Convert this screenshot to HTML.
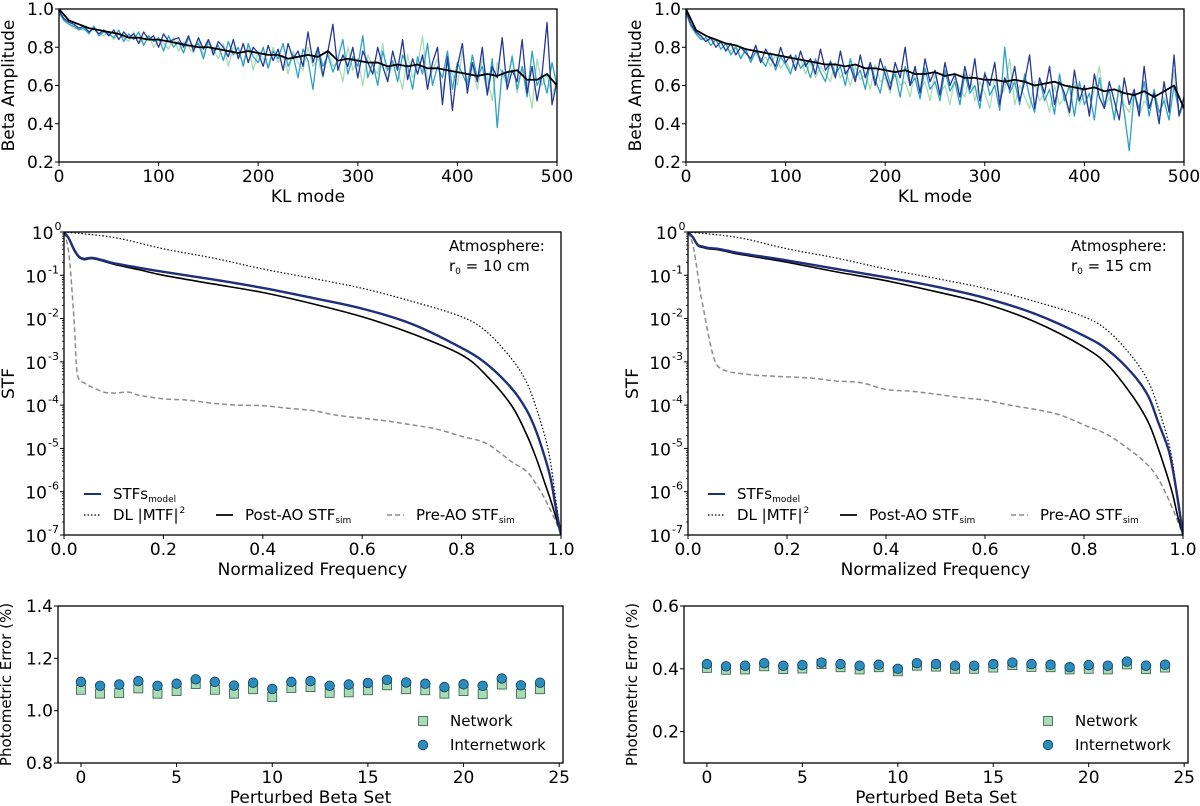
<!DOCTYPE html>
<html><head><meta charset="utf-8">
<style>
html,body{margin:0;padding:0;background:#fff;}
svg{display:block;font-family:"DejaVu Sans","Liberation Sans",sans-serif;}
</style></head>
<body>
<svg id="fig" width="1200" height="806" viewBox="0 0 1200 806" xmlns="http://www.w3.org/2000/svg"></svg>
<script>
// ---------- Top-left (beta amplitude, r0=10) ----------
const tlBlue=[0.99,0.95,0.93,0.92,0.90,0.91,0.88,0.90,0.87,0.89,0.86,0.89,0.84,0.88,0.85,0.87,0.82,0.88,0.84,0.86,0.80,0.87,0.83,0.84,0.85,0.80,0.86,0.78,0.85,0.79,0.84,0.76,0.83,0.80,0.75,0.84,0.74,0.82,0.72,0.80,0.77,0.70,0.81,0.73,0.79,0.68,0.82,0.74,0.78,0.70,0.88,0.72,0.80,0.65,0.78,0.92,0.68,0.76,0.70,0.80,0.64,0.78,0.72,0.66,0.80,0.70,0.62,0.78,0.68,0.84,0.63,0.74,0.66,0.76,0.58,0.72,0.80,0.50,0.75,0.47,0.70,0.82,0.56,0.72,0.62,0.80,0.55,0.70,0.64,0.85,0.58,0.68,0.62,0.84,0.56,0.70,0.52,0.66,0.93,0.50,0.62];
const tlCyan=[0.98,0.94,0.92,0.91,0.89,0.90,0.87,0.91,0.86,0.88,0.87,0.85,0.89,0.83,0.87,0.84,0.88,0.81,0.86,0.83,0.85,0.78,0.86,0.80,0.83,0.77,0.85,0.80,0.82,0.74,0.84,0.78,0.81,0.73,0.83,0.76,0.80,0.70,0.82,0.75,0.72,0.80,0.69,0.78,0.74,0.82,0.70,0.76,0.64,0.79,0.73,0.58,0.80,0.70,0.76,0.67,0.74,0.84,0.66,0.75,0.70,0.86,0.64,0.72,0.60,0.78,0.68,0.73,0.62,0.76,0.70,0.58,0.75,0.66,0.82,0.60,0.70,0.64,0.78,0.58,0.72,0.66,0.60,0.76,0.64,0.70,0.56,0.74,0.38,0.68,0.62,0.75,0.58,0.70,0.54,0.78,0.60,0.66,0.56,0.72,0.60];
const tlGreen=[0.98,0.94,0.92,0.90,0.90,0.89,0.88,0.89,0.87,0.86,0.88,0.84,0.87,0.85,0.83,0.88,0.82,0.84,0.86,0.80,0.84,0.82,0.79,0.85,0.78,0.83,0.80,0.77,0.84,0.76,0.82,0.79,0.74,0.82,0.70,0.80,0.76,0.72,0.81,0.68,0.78,0.74,0.70,0.80,0.72,0.76,0.66,0.78,0.72,0.68,0.80,0.70,0.74,0.64,0.78,0.70,0.72,0.62,0.80,0.68,0.74,0.60,0.76,0.70,0.66,0.82,0.62,0.72,0.68,0.58,0.76,0.64,0.70,0.86,0.62,0.68,0.74,0.56,0.72,0.66,0.60,0.78,0.62,0.70,0.58,0.74,0.64,0.52,0.72,0.66,0.60,0.76,0.56,0.70,0.62,0.48,0.74,0.60,0.66,0.54,0.64];
const tlBlack=[1.00,0.94,0.92,0.90,0.89,0.88,0.87,0.85,0.85,0.84,0.84,0.83,0.82,0.81,0.80,0.80,0.79,0.78,0.77,0.78,0.77,0.76,0.76,0.74,0.75,0.76,0.75,0.78,0.73,0.74,0.73,0.72,0.72,0.70,0.71,0.70,0.71,0.69,0.69,0.68,0.67,0.66,0.65,0.66,0.65,0.67,0.68,0.63,0.63,0.66,0.60];
// ---------- Top-right (beta amplitude, r0=15) ----------
const trBlue=[0.99,0.92,0.88,0.86,0.83,0.85,0.80,0.83,0.78,0.82,0.76,0.80,0.77,0.74,0.81,0.72,0.79,0.74,0.70,0.80,0.72,0.76,0.68,0.78,0.70,0.74,0.66,0.79,0.68,0.72,0.64,0.78,0.66,0.70,0.62,0.76,0.64,0.72,0.60,0.74,0.66,0.58,0.72,0.64,0.80,0.60,0.70,0.56,0.74,0.62,0.68,0.55,0.72,0.60,0.66,0.54,0.70,0.58,0.74,0.52,0.66,0.60,0.72,0.50,0.64,0.58,0.70,0.52,0.62,0.76,0.48,0.64,0.56,0.70,0.50,0.62,0.56,0.46,0.68,0.52,0.60,0.44,0.66,0.54,0.48,0.62,0.52,0.42,0.64,0.50,0.58,0.44,0.70,0.48,0.56,0.40,0.62,0.46,0.76,0.44,0.54];
const trCyan=[0.98,0.91,0.87,0.84,0.85,0.81,0.84,0.79,0.82,0.76,0.80,0.74,0.79,0.72,0.78,0.74,0.70,0.77,0.68,0.75,0.71,0.66,0.76,0.69,0.72,0.64,0.74,0.67,0.62,0.73,0.66,0.70,0.60,0.74,0.64,0.68,0.58,0.72,0.63,0.56,0.70,0.61,0.66,0.54,0.70,0.60,0.64,0.53,0.69,0.58,0.62,0.52,0.68,0.57,0.62,0.50,0.66,0.56,0.60,0.48,0.67,0.55,0.60,0.47,0.80,0.56,0.62,0.50,0.66,0.54,0.46,0.64,0.52,0.58,0.45,0.66,0.52,0.60,0.44,0.62,0.50,0.56,0.42,0.64,0.50,0.58,0.42,0.60,0.46,0.26,0.56,0.48,0.62,0.44,0.58,0.46,0.52,0.42,0.60,0.46,0.50];
const trGreen=[0.98,0.91,0.88,0.85,0.83,0.84,0.80,0.82,0.79,0.78,0.81,0.75,0.78,0.73,0.77,0.72,0.75,0.70,0.76,0.69,0.73,0.68,0.71,0.74,0.66,0.72,0.64,0.70,0.66,0.62,0.72,0.64,0.68,0.60,0.70,0.63,0.66,0.58,0.71,0.62,0.64,0.56,0.68,0.60,0.62,0.54,0.68,0.58,0.62,0.52,0.66,0.56,0.60,0.50,0.64,0.58,0.54,0.66,0.52,0.62,0.56,0.48,0.64,0.54,0.58,0.74,0.50,0.60,0.54,0.48,0.62,0.52,0.56,0.46,0.60,0.50,0.54,0.44,0.62,0.50,0.56,0.46,0.58,0.70,0.48,0.54,0.44,0.60,0.50,0.46,0.56,0.44,0.52,0.48,0.58,0.42,0.54,0.48,0.68,0.44,0.50];
const trBlack=[1.00,0.89,0.86,0.84,0.82,0.81,0.79,0.78,0.77,0.76,0.75,0.74,0.73,0.72,0.71,0.71,0.70,0.71,0.69,0.69,0.68,0.67,0.68,0.66,0.66,0.67,0.65,0.66,0.64,0.64,0.63,0.63,0.62,0.63,0.62,0.60,0.61,0.62,0.60,0.59,0.58,0.59,0.57,0.58,0.56,0.55,0.57,0.54,0.57,0.60,0.48];
const klTicks=[0,100,200,300,400,500];
const betaTicks=[0.2,0.4,0.6,0.8,1.0];

// ---------- Middle panels (STF) ----------
const freqModel=[0,0.01,0.02,0.03,0.04,0.05,0.06,0.08,0.1,0.15,0.2,0.3,0.4,0.5,0.6,0.7,0.8,0.85,0.9,0.93,0.95,0.97,0.98,0.99,1.0];
const mlModel=[1,0.7,0.4,0.27,0.24,0.25,0.25,0.22,0.19,0.15,0.12,0.08,0.051,0.03,0.017,0.0075,0.0021,0.0009,2.5e-4,8e-5,2.5e-5,5e-6,1.8e-6,4e-7,1e-7];
const mlPost=[1,0.68,0.38,0.26,0.23,0.24,0.24,0.21,0.18,0.135,0.1,0.063,0.04,0.022,0.011,0.0045,0.00145,4.8e-4,1.0e-4,2.2e-5,6e-6,1.3e-6,6e-7,2.5e-7,1e-7];
const mrModel=[1,0.75,0.5,0.46,0.43,0.42,0.41,0.37,0.33,0.27,0.22,0.14,0.09,0.055,0.03,0.013,0.004,0.0018,5e-4,1.6e-4,4e-5,1e-5,3e-6,6e-7,1e-7];
const mrPost=[1,0.73,0.48,0.44,0.41,0.40,0.39,0.35,0.31,0.25,0.2,0.12,0.075,0.042,0.022,0.0085,0.0022,8e-4,1.5e-4,4e-5,1e-5,2e-6,8e-7,2.5e-7,1e-7];
const freqDL=[0,0.1,0.2,0.3,0.4,0.5,0.6,0.7,0.8,0.85,0.9,0.93,0.95,0.97,0.98,0.99,1.0];
const dlVals=[1,0.75,0.41,0.25,0.14,0.085,0.05,0.025,0.011,0.005,0.0012,3.5e-4,8.7e-5,1.5e-5,4e-6,6e-7,1e-7];
const freqPre=[0,0.01,0.02,0.025,0.03,0.04,0.05,0.06,0.08,0.1,0.13,0.15,0.2,0.25,0.3,0.35,0.4,0.45,0.5,0.55,0.6,0.65,0.7,0.75,0.8,0.85,0.9,0.93,0.95,0.97,0.99,1.0];
const mlPre=[1,0.3,0.01,8e-4,4e-4,3.3e-4,2.8e-4,2.5e-4,2e-4,1.9e-4,2e-4,1.7e-4,1.4e-4,1.3e-4,1.1e-4,1e-4,9.7e-5,8.5e-5,7.5e-5,5.8e-5,5e-5,4.3e-5,3.5e-5,2.8e-5,1.9e-5,1.3e-5,5e-6,3e-6,1.5e-6,6e-7,2e-7,1e-7];
const mrPre=[1,0.5,0.1,0.04,0.02,0.005,0.0015,8e-4,6e-4,5.5e-4,5e-4,4.8e-4,4.5e-4,4.2e-4,3.6e-4,3.3e-4,2.3e-4,2.1e-4,1.8e-4,1.5e-4,1.3e-4,1e-4,8e-5,6e-5,3.5e-5,2e-5,8e-6,4e-6,2e-6,7e-7,2e-7,1e-7];
const freqTicks=[0,0.2,0.4,0.6,0.8,1.0];
const logTicks=[0,-1,-2,-3,-4,-5,-6,-7];

// ---------- Bottom panels (photometric error) ----------
const betaSet=[0,1,2,3,4,5,6,7,8,9,10,11,12,13,14,15,16,17,18,19,20,21,22,23,24];
const blNetwork=[1.080,1.065,1.067,1.085,1.065,1.075,1.102,1.080,1.065,1.082,1.052,1.087,1.090,1.068,1.070,1.078,1.097,1.082,1.078,1.065,1.075,1.063,1.100,1.065,1.082];
const blInter=[1.110,1.095,1.100,1.113,1.095,1.103,1.120,1.110,1.096,1.107,1.083,1.110,1.113,1.095,1.100,1.106,1.118,1.108,1.103,1.090,1.101,1.095,1.123,1.097,1.107];
const brNetwork=[0.403,0.397,0.398,0.408,0.399,0.401,0.415,0.405,0.398,0.405,0.392,0.410,0.407,0.400,0.400,0.404,0.412,0.406,0.405,0.398,0.400,0.398,0.414,0.399,0.404];
const brInter=[0.415,0.408,0.410,0.418,0.410,0.412,0.420,0.415,0.410,0.413,0.400,0.418,0.415,0.410,0.410,0.415,0.420,0.415,0.413,0.405,0.412,0.410,0.423,0.410,0.413];
const setTicks=[0,5,10,15,20,25];
const blTicks=[0.8,1.0,1.2,1.4];
const brTicks=[0.2,0.4,0.6];

const NS="http://www.w3.org/2000/svg";
const fig=document.getElementById('fig');
const FS=17;
function mk(tag,attrs,parent){const e=document.createElementNS(NS,tag);for(const k in attrs)e.setAttribute(k,attrs[k]);(parent||fig).appendChild(e);return e;}
function linScale(d0,d1,r0,r1){return v=>r0+(v-d0)/(d1-d0)*(r1-r0);}

function panel(name,box,xs,ys,xticks,yticks,xlab,ylab,yfmt,ylabX,ylabSize){
  const g=mk('g',{});
  
  
  const ax=mk('g',{},g);
  
  
  const dec=xticks.some(v=>v%1!==0);
  xticks.forEach(t=>{const x=xs(t);
    mk('line',{x1:x,x2:x,y1:box.b,y2:box.b+4,stroke:'#000','stroke-width':1},ax);
    const tx=mk('text',{x:x,y:box.b+20,'font-size':FS,'text-anchor':'middle'},ax);tx.textContent=dec?t.toFixed(1):String(t);
    
    
  });
  const xl=mk('text',{x:(box.l+box.r)/2,y:box.b+40,'font-size':FS,'text-anchor':'middle'},g);xl.textContent=xlab;
  
  
  const ay=mk('g',{},g);
  
  
  yticks.forEach(t=>{const y=ys(t);
    mk('line',{x1:box.l-4,x2:box.l,y1:y,y2:y,stroke:'#000','stroke-width':1},ay);
    yfmt(t,y,ay);
  });
  const yl=mk('text',{x:0,y:0,'font-size':ylabSize||FS,'text-anchor':'middle',transform:`translate(${ylabX},${(box.t+box.b)/2}) rotate(-90)`},g);yl.textContent=ylab;
  
  
  const cid='clip'+name;
  const cp=mk('clipPath',{id:cid},g);mk('rect',{x:box.l,y:box.t,width:box.r-box.l,height:box.b-box.t},cp);
  const plot=mk('g',{'clip-path':`url(#${cid})`},g);
  
  
  return {g,plot,finish:()=>{const fr=mk('rect',{x:box.l,y:box.t,width:box.r-box.l,height:box.b-box.t,fill:'none',stroke:'#000','stroke-width':1.3},g);
    
    }};
}
function numY(decimals,offset){return (t,y,p)=>{const e=mk('text',{x:offset,y:y+6,'font-size':FS,'text-anchor':'end'},p);e.textContent=t.toFixed(decimals);
  
  };}
function logY(offset){return (t,y,p)=>{
  const ex=String(t), w=ex.length*6.5;
  const e=mk('text',{x:offset-w,y:y+7,'font-size':FS,'text-anchor':'end'},p);e.textContent='10';
  
  
  const s2=mk('text',{x:offset-w+1,y:y-2,'font-size':11,'text-anchor':'start'},p);s2.textContent=ex;
  
  
};}
function line(plot,xv,yv,xs,ys,color,w,dash,name,smooth){
  const pts=xv.map((x,i)=>[xs(x),ys(yv[i])]);
  let d='M'+pts[0][0].toFixed(2)+','+pts[0][1].toFixed(2);
  if(smooth){
    for(let i=0;i<pts.length-1;i++){
      const p0=pts[Math.max(0,i-1)],p1=pts[i],p2=pts[i+1],p3=pts[Math.min(pts.length-1,i+2)];
      const c1=[p1[0]+(p2[0]-p0[0])/6,p1[1]+(p2[1]-p0[1])/6];
      const c2=[p2[0]-(p3[0]-p1[0])/6,p2[1]-(p3[1]-p1[1])/6];
      d+='C'+c1[0].toFixed(2)+','+c1[1].toFixed(2)+' '+c2[0].toFixed(2)+','+c2[1].toFixed(2)+' '+p2[0].toFixed(2)+','+p2[1].toFixed(2);
    }
  } else {
    for(let i=1;i<pts.length;i++)d+='L'+pts[i][0].toFixed(2)+','+pts[i][1].toFixed(2);
  }
  const p=mk('path',{d:d,fill:'none',stroke:color,'stroke-width':w,'stroke-linejoin':'round'},plot);
  if(dash)p.setAttribute('stroke-dasharray',dash);
  
  
  return p;
}
function idx(arr){const n=arr.length;return arr.map((_,i)=>i*500/(n-1));}

// ----- Top panels -----
function betaPanel(name,box,green,cyan,blue,black){
  const xs=linScale(0,500,box.l,box.r), ys=linScale(0.2,1.0,box.b,box.t);
  const P=panel(name,box,xs,ys,klTicks,betaTicks,'KL mode','Beta Amplitude',numY(1,box.l-5),box.l-45);
  line(P.plot,idx(green),green,xs,ys,'#a8dcb4',1.3,null,'series-set-1');
  line(P.plot,idx(cyan),cyan,xs,ys,'#2ca1c4',1.3,null,'series-set-2');
  line(P.plot,idx(blue),blue,xs,ys,'#26379a',1.3,null,'series-set-3');
  line(P.plot,idx(black),black,xs,ys,'#000',1.8,null,'series-mean');
  P.finish();
}
betaPanel('beta-panel-r0-10',{l:59,r:557,t:9,b:162},tlGreen,tlCyan,tlBlue,tlBlack);
betaPanel('beta-panel-r0-15',{l:686,r:1184,t:9,b:162},trGreen,trCyan,trBlue,trBlack);

// ----- Middle panels -----
function stfPanel(name,box,model,post,pre,atm){
  const xs=linScale(0,1,box.l,box.r); const yl=linScale(0,-7,box.t,box.b); const ys=v=>yl(Math.log10(v));
  const P=panel(name,box,xs,yl,freqTicks,logTicks,'Normalized Frequency','STF',logY(box.l-4),box.l-50);
  logTicks.slice(0,-1).forEach(t=>{for(let k=2;k<10;k++){const y=yl(t-1+Math.log10(k));mk('line',{x1:box.l-2,x2:box.l,y1:y,y2:y,stroke:'#000','stroke-width':0.8},P.g);}});
  line(P.plot,freqDL,dlVals,xs,ys,'#000',1.2,'1.5,2','dl-mtf-line',true);
  line(P.plot,freqPre,pre,xs,ys,'#8c8c8c',1.5,'5,3','pre-ao-line',true);
  line(P.plot,freqModel,post,xs,ys,'#000',1.6,null,'post-ao-line',true);
  line(P.plot,freqModel,model,xs,ys,'#1f2f7a',2.4,null,'stf-model-line',true);
  const lg=mk('g',{},P.g);
  
  
  const L=box.l, r1=box.t+262, r2=box.t+283;
  function entry(x,y,col,dash,w,label,sub,sup){
    mk('line',{x1:x,x2:x+17,y1:y,y2:y,stroke:col,'stroke-width':w,'stroke-dasharray':dash||'none'},lg);
    const t=mk('text',{x:x+29,y:y+5,'font-size':15},lg);
    
    
    const a=mk('tspan',{},t);a.textContent=label;
    if(sub){const s=mk('tspan',{'font-size':9,dy:3},t);s.textContent=sub;}
    if(sup){const s=mk('tspan',{'font-size':9,dy:-7,dx:1},t);s.textContent=sup;}
  }
  entry(L+20,r1,'#1f2f7a',null,2,'STFs','model');
  entry(L+20,r2,'#000','1.5,2',1.2,'DL |MTF|','', '2');
  entry(L+152,r2,'#000',null,1.8,'Post-AO STF','sim');
  entry(L+323,r2,'#8c8c8c','5,3',1.5,'Pre-AO STF','sim');
  const at=mk('text',{x:box.r-112,y:box.t+19,'font-size':15},P.g);at.textContent='Atmosphere:';
  
  
  const at2=mk('text',{x:box.r-112,y:box.t+39,'font-size':15},P.g);
  
  
  const r=mk('tspan',{},at2);r.textContent='r';const z=mk('tspan',{'font-size':9,dy:3},at2);z.textContent='0';const rest=mk('tspan',{dy:-3},at2);rest.textContent=' = '+atm;
  P.finish();
}
stfPanel('stf-panel-r0-10',{l:64,r:561,t:232,b:535},mlModel,mlPost,mlPre,'10 cm');
stfPanel('stf-panel-r0-15',{l:688,r:1183,t:232,b:535},mrModel,mrPost,mrPre,'15 cm');

// ----- Bottom panels -----
function errPanel(name,box,ymin,ymax,yticks,net,inter){
  const xs=linScale(-1.2,25.2,box.l,box.r), ys=linScale(ymin,ymax,box.b,box.t);
  const P=panel(name,box,xs,ys,setTicks,yticks,'Perturbed Beta Set','Photometric Error (%)',numY(1,box.l-5),box.l-47,15);
  betaSet.forEach((s,i)=>{const q=mk('rect',{x:xs(s)-4.5,y:ys(net[i])-4.5,width:9,height:9,fill:'#a8dcb4',stroke:'#2e5a46','stroke-width':0.8},P.plot);
    
    });
  betaSet.forEach((s,i)=>{const c=mk('circle',{cx:xs(s),cy:ys(inter[i]),r:4.8,fill:'#2b8cbe',stroke:'#163a55','stroke-width':0.8},P.plot);
    
    });
  const lg=mk('g',{},P.g);
  
  
  const lx=box.r-140, ly1=box.b-42, ly2=box.b-18;
  mk('rect',{x:lx-4.5,y:ly1-4.5,width:9,height:9,fill:'#a8dcb4',stroke:'#2e5a46','stroke-width':0.8},lg);
  const t1=mk('text',{x:lx+27,y:ly1+5,'font-size':15},lg);t1.textContent='Network';
  
  
  mk('circle',{cx:lx,cy:ly2,r:4.8,fill:'#2b8cbe',stroke:'#163a55','stroke-width':0.8},lg);
  const t2=mk('text',{x:lx+27,y:ly2+5,'font-size':15},lg);t2.textContent='Internetwork';
  
  
  P.finish();
}
errPanel('error-panel-r0-10',{l:58,r:563,t:606,b:763},0.8,1.4,blTicks,blNetwork,blInter);
errPanel('error-panel-r0-15',{l:684,r:1188,t:606,b:763},0.1,0.6,brTicks,brNetwork,brInter);
</script>
</body></html>
